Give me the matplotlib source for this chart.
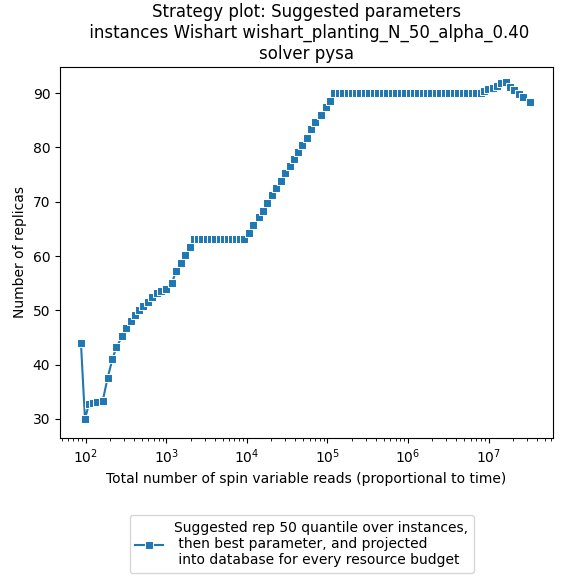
import matplotlib
matplotlib.use("Agg")
import matplotlib.pyplot as plt
import numpy as np

# log10 of resource budget (spin variable reads)
log_reads = [1.94, 1.99, 2.04, 2.09, 2.14, 2.21, 2.27, 2.33, 2.38, 2.45, 2.50, 2.56,
             2.61, 2.66, 2.71, 2.77, 2.82, 2.88, 2.93, 2.99, 3.07, 3.12, 3.18, 3.23,
             3.29, 3.34,
             3.39, 3.44, 3.50, 3.55, 3.60, 3.66, 3.71, 3.76, 3.81, 3.86, 3.92, 3.96,
             4.02, 4.08, 4.15, 4.20, 4.25, 4.31, 4.36, 4.42, 4.47, 4.53, 4.58, 4.63,
             4.69, 4.74, 4.79, 4.85, 4.92, 4.98, 5.03,
             5.08, 5.14, 5.19, 5.25, 5.30, 5.36, 5.41, 5.47, 5.52, 5.58, 5.63, 5.69,
             5.74, 5.80, 5.85, 5.91, 5.96, 6.02, 6.07, 6.13, 6.18, 6.24, 6.29, 6.35,
             6.40, 6.46, 6.51, 6.57, 6.62, 6.68, 6.73, 6.79, 6.84, 6.90,
             6.94, 6.99, 7.05, 7.10, 7.16, 7.22, 7.27, 7.32, 7.38, 7.43, 7.52]
replicas = [44.0, 30.0, 32.8, 33.0, 33.2, 33.3, 37.5, 41.0, 43.2, 45.2, 46.8, 48.0,
            49.2, 50.0, 50.8, 51.6, 52.4, 53.2, 53.6, 54.0, 55.0, 57.3, 58.7, 60.2,
            61.6, 63.1,
            63.1, 63.1, 63.1, 63.1, 63.1, 63.1, 63.1, 63.1, 63.1, 63.1, 63.1, 63.1,
            64.3, 65.7, 67.2, 68.3, 69.7, 71.3, 72.5, 73.8, 75.2, 76.5, 77.8, 79.2,
            80.5, 81.8, 83.3, 84.6, 86.0, 87.4, 88.6,
            90.0, 90.0, 90.0, 90.0, 90.0, 90.0, 90.0, 90.0, 90.0, 90.0, 90.0, 90.0,
            90.0, 90.0, 90.0, 90.0, 90.0, 90.0, 90.0, 90.0, 90.0, 90.0, 90.0, 90.0,
            90.0, 90.0, 90.0, 90.0, 90.0, 90.0, 90.0, 90.0, 90.0, 90.0,
            90.3, 90.7, 91.0, 91.3, 91.8, 92.0, 91.2, 90.6, 89.8, 89.2, 88.3]

reads = 10 ** np.array(log_reads)

fig = plt.figure(figsize=(5.63, 5.84), dpi=100)
ax = fig.add_axes([60 / 563, 1 - 438 / 584, 493 / 563, 371 / 584])
ax.plot(reads, replicas, color="#1f77b4", lw=1.5, marker="s", markersize=6,
        markeredgecolor="white", markeredgewidth=0.75,
        label="Suggested rep 50 quantile over instances,\n then best parameter, and projected\n into database for every resource budget")
ax.set_xscale("log")
ax.set_xlim(10 ** 1.68, 10 ** 7.8)
ax.set_ylim(26.5, 94.8)
ax.set_xlabel("Total number of spin variable reads (proportional to time)")
ax.set_ylabel("Number of replicas")
ax.set_title("Strategy plot: Suggested parameters\n instances Wishart wishart_planting_N_50_alpha_0.40\nsolver pysa")
ax.legend(loc="upper center", bbox_to_anchor=(0.49, -0.19))
fig.savefig("out.png", dpi=100)
